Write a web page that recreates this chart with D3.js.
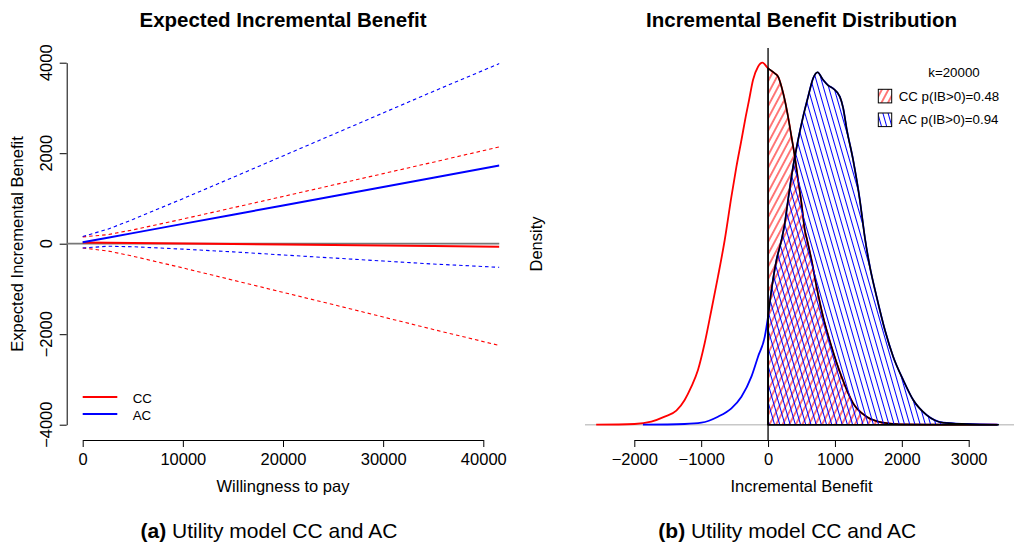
<!DOCTYPE html>
<html>
<head>
<meta charset="utf-8">
<script src="https://cdn.jsdelivr.net/npm/d3@7"></script>
<style>
  html, body { margin: 0; padding: 0; background: #fff; }
  svg { display: block; font-family: "Liberation Sans", Arial, Helvetica, sans-serif; }
</style>
</head>
<body>
<svg id="fig" width="1014" height="546"></svg>
<script>
// ---- Panel (a): expected incremental benefit vs willingness to pay ----
const wtp     = [0, 2500, 5000, 10000, 15000, 20000, 25000, 30000, 35000, 41600];
const ccMean  = [25, 20, 14, 3, -8, -19, -30, -41, -52, -66];
const ccLower = [-95, -160, -275, -535, -805, -1075, -1345, -1620, -1895, -2249];
const ccUpper = [150, 200, 305, 545, 794, 1044, 1296, 1549, 1801, 2139];
const acMean  = [30, 132, 234, 438, 642, 845, 1049, 1253, 1457, 1726];
const acLower = [-95, -56, -67, -120, -180, -249, -316, -383, -449, -522];
const acUpper = [160, 320, 535, 995, 1465, 1940, 2415, 2890, 3365, 3980];
const wtpTicks = [0, 10000, 20000, 30000, 40000];
const eibTicks = [-4000, -2000, 0, 2000, 4000];
const seriesNames = ["CC", "AC"];

// ---- Panel (b): incremental benefit densities at k = 20000 (density in 1e-4 units) ----
const ccIB  = [-2570, -1996, -1746, -1546, -1371, -1247, -1147, -1048, -948, -847, -749, -648, -548, -473, -398, -334, -284, -225, -150, -84,
               0, 100, 150, 201, 250, 299, 350, 400, 449, 500, 549, 584, 650, 725, 823, 949, 1099, 1272, 1473, 1722, 1972, 2570, 3424];
const ccDen = [0, 0.015, 0.066, 0.177, 0.309, 0.546, 0.84, 1.209, 1.799, 2.535, 3.271, 4.082, 5.039, 5.702, 6.292, 6.807, 7.176, 7.618, 7.912, 8.0,
               7.876, 7.766, 7.691, 7.47, 7.176, 6.807, 6.365, 5.923, 5.408, 4.893, 4.303, 4.082, 3.64, 3.05, 2.387, 1.724, 1.061, 0.473, 0.177, 0.044, 0.009, 0.002, 0];
const acIB  = [-1871, -1247, -997, -749, -548, -398, -249, -150, -49, 0, 51, 126, 201, 250, 299, 374, 449, 524, 599, 674, 740,
               823, 898, 973, 1073, 1123, 1174, 1272, 1372, 1448, 1522, 1623, 1747, 1871, 2021, 2171, 2371, 2620, 2970, 3443];
const acDen = [0, 0.015, 0.044, 0.177, 0.362, 0.619, 1.061, 1.503, 1.945, 2.387, 2.977, 3.64, 4.082, 4.45, 4.966, 5.702, 6.292, 6.807, 7.249, 7.655, 7.788,
               7.62, 7.5, 7.43, 7.25, 7.0, 6.55, 5.85, 4.97, 4.13, 3.492, 2.829, 2.093, 1.503, 0.988, 0.546, 0.214, 0.044, 0.015, 0];
const ibTicks = [-2000, -1000, 0, 1000, 2000, 3000];
const kLabel = "k=20000";
const probLabels = ["CC p(IB>0)=0.48", "AC p(IB>0)=0.94"];

const RED = "#ff0000", BLUE = "#0000ff";
const TICK_FONT = 16.5, LEG_FONT = 13.3;
const fmt = d3.format("d");

const svg = d3.select("#fig");
svg.append("rect").attr("width", 1014).attr("height", 546).attr("fill", "#fff");
const defs = svg.append("defs");

// shading-line fills for the positive-benefit regions
function hatch(id, color, angle, spacing) {
  const p = defs.append("pattern").attr("id", id)
    .attr("patternUnits", "userSpaceOnUse")
    .attr("width", spacing).attr("height", 20)
    .attr("patternTransform", `rotate(${angle})`);
  p.append("line").attr("x1", spacing / 2).attr("x2", spacing / 2)
    .attr("y1", -2).attr("y2", 22)
    .attr("stroke", color).attr("stroke-width", 1.05);
}
hatch("hatchCC", RED, 28, 5.8);
hatch("hatchAC", BLUE, -16, 5.0);

/* =================== Panel (a) =================== */
const A = { left: 66.7, right: 499.5, top: 48, bottom: 440 };
const xA = d3.scaleLinear().domain([0, 40000]).range([82.7, 483.3]);
const yA = d3.scaleLinear().domain([-4000, 4000]).range([424.7, 62.7]);

defs.append("clipPath").attr("id", "clipA").append("rect")
  .attr("x", A.left).attr("y", A.top).attr("width", A.right - A.left).attr("height", A.bottom - A.top);

const gA = svg.append("g");

// axes
const xAxisA = gA.append("g").attr("transform", `translate(0,${A.bottom})`)
  .call(d3.axisBottom(xA).tickValues(wtpTicks).tickSize(7).tickSizeOuter(0).tickFormat(fmt));
xAxisA.select(".domain").attr("stroke", "#000");
xAxisA.selectAll(".tick line").attr("stroke", "#000");
xAxisA.selectAll(".tick text").attr("font-size", TICK_FONT).attr("font-family", null)
  .attr("fill", "#000").attr("y", 0).attr("dy", null).attr("transform", "translate(0,25)");

const yAxisA = gA.append("g").attr("transform", `translate(${A.left},0)`)
  .call(d3.axisLeft(yA).tickValues(eibTicks).tickSize(7).tickSizeOuter(0).tickFormat(""));
yAxisA.select(".domain").attr("stroke", "#000");
yAxisA.selectAll(".tick line").attr("stroke", "#000");
gA.selectAll(".ylab").data(eibTicks).join("text")
  .attr("transform", d => `translate(51.5,${yA(d)}) rotate(-90)`)
  .attr("text-anchor", "middle").attr("font-size", TICK_FONT).text(fmt);

// zero reference
const plotA = gA.append("g").attr("clip-path", "url(#clipA)");
plotA.append("line").attr("x1", A.left).attr("x2", A.right)
  .attr("y1", yA(0)).attr("y2", yA(0)).attr("stroke", "#777").attr("stroke-width", 1.8);

const lineA = vals => d3.line().x((d, i) => xA(wtp[i])).y(d => yA(d))(vals);
const dash = "3.5,3";
[[ccUpper, RED], [ccLower, RED], [acUpper, BLUE], [acLower, BLUE]].forEach(([v, c]) => {
  plotA.append("path").attr("d", lineA(v)).attr("fill", "none")
    .attr("stroke", c).attr("stroke-width", 1.1).attr("stroke-dasharray", dash);
});
[[ccMean, RED], [acMean, BLUE]].forEach(([v, c]) => {
  plotA.append("path").attr("d", lineA(v)).attr("fill", "none")
    .attr("stroke", c).attr("stroke-width", 2);
});

// legend
const legA = gA.append("g");
seriesNames.forEach((name, i) => {
  const y = 397 + i * 17;
  legA.append("line").attr("x1", 82.7).attr("x2", 117.3).attr("y1", y).attr("y2", y)
    .attr("stroke", i === 0 ? RED : BLUE).attr("stroke-width", 2);
  legA.append("text").attr("x", 132.7).attr("y", y + 5.5).attr("font-size", LEG_FONT).text(name);
});

// titles
gA.append("text").attr("x", 283).attr("y", 26.5).attr("text-anchor", "middle")
  .attr("font-size", 20.5).attr("font-weight", "bold").text("Expected Incremental Benefit");
gA.append("text").attr("x", 283).attr("y", 492).attr("text-anchor", "middle")
  .attr("font-size", TICK_FONT).text("Willingness to pay");
gA.append("text").attr("transform", `translate(22.7,244) rotate(-90)`).attr("text-anchor", "middle")
  .attr("font-size", TICK_FONT).text("Expected Incremental Benefit");
const capA = gA.append("text").attr("x", 269).attr("y", 537.5).attr("text-anchor", "middle").attr("font-size", 21);
capA.append("tspan").attr("font-weight", "bold").text("(a)");
capA.append("tspan").text(" Utility model CC and AC");

/* =================== Panel (b) =================== */
const B = { left: 585, right: 1018, top: 48, bottom: 440 };
const xB = d3.scaleLinear().domain([-2000, 3000]).range([634.3, 968.7]);
const yB = d3.scaleLinear().domain([0, 8]).range([424.7, 62.7]);

const gB = svg.append("g");

const xAxisB = gB.append("g").attr("transform", `translate(0,${B.bottom})`)
  .call(d3.axisBottom(xB).tickValues(ibTicks).tickSize(7).tickSizeOuter(0).tickFormat(fmt));
xAxisB.select(".domain").attr("stroke", "#000");
xAxisB.selectAll(".tick line").attr("stroke", "#000");
xAxisB.selectAll(".tick text").attr("font-size", TICK_FONT).attr("font-family", null)
  .attr("fill", "#000").attr("y", 0).attr("dy", null).attr("transform", "translate(0,25)");

// density baseline
gB.append("line").attr("x1", B.left).attr("x2", 1014).attr("y1", yB(0)).attr("y2", yB(0))
  .attr("stroke", "#c8c8c8").attr("stroke-width", 1.5);

const ccPts = ccIB.map((x, i) => [x, ccDen[i]]);
const acPts = acIB.map((x, i) => [x, acDen[i]]);
const curve = d3.line().x(d => xB(d[0])).y(d => yB(d[1])).curve(d3.curveMonotoneX);

gB.append("path").attr("d", curve(ccPts)).attr("fill", "none").attr("stroke", RED).attr("stroke-width", 1.8);
gB.append("path").attr("d", curve(acPts)).attr("fill", "none").attr("stroke", BLUE).attr("stroke-width", 1.8);

const area = d3.area().x(d => xB(d[0])).y0(yB(0)).y1(d => yB(d[1])).curve(d3.curveMonotoneX);
const posPart = pts => pts.filter(d => d[0] >= 0);

gB.append("path").attr("d", area(posPart(ccPts)) + "Z").attr("fill", "url(#hatchCC)")
  .attr("stroke", "#000").attr("stroke-width", 1.5).attr("stroke-linejoin", "round");
gB.append("path").attr("d", area(posPart(acPts)) + "Z").attr("fill", "url(#hatchAC)")
  .attr("stroke", "#000").attr("stroke-width", 1.5).attr("stroke-linejoin", "round");

// vertical reference at zero benefit
gB.append("line").attr("x1", xB(0)).attr("x2", xB(0)).attr("y1", B.top).attr("y2", B.bottom)
  .attr("stroke", "#000").attr("stroke-width", 1.3);

// legend
gB.append("text").attr("x", 954).attr("y", 76.5).attr("text-anchor", "middle")
  .attr("font-size", LEG_FONT).text(kLabel);
probLabels.forEach((lab, i) => {
  const y0 = 89.3 + i * 23.7;
  gB.append("rect").attr("x", 878.3).attr("y", y0).attr("width", 13.4).attr("height", 13.6)
    .attr("fill", i === 0 ? "url(#hatchCC)" : "url(#hatchAC)").attr("stroke", "#000").attr("stroke-width", 1);
  gB.append("text").attr("x", 898.7).attr("y", y0 + 11.4).attr("font-size", LEG_FONT).text(lab);
});

// titles
gB.append("text").attr("x", 801.5).attr("y", 26.5).attr("text-anchor", "middle")
  .attr("font-size", 20.5).attr("font-weight", "bold").text("Incremental Benefit Distribution");
gB.append("text").attr("x", 801.5).attr("y", 492).attr("text-anchor", "middle")
  .attr("font-size", TICK_FONT).text("Incremental Benefit");
gB.append("text").attr("transform", `translate(542.3,244) rotate(-90)`).attr("text-anchor", "middle")
  .attr("font-size", TICK_FONT).text("Density");
const capB = gB.append("text").attr("x", 787.3).attr("y", 537.5).attr("text-anchor", "middle").attr("font-size", 21);
capB.append("tspan").attr("font-weight", "bold").text("(b)");
capB.append("tspan").text(" Utility model CC and AC");
</script>
</body>
</html>
